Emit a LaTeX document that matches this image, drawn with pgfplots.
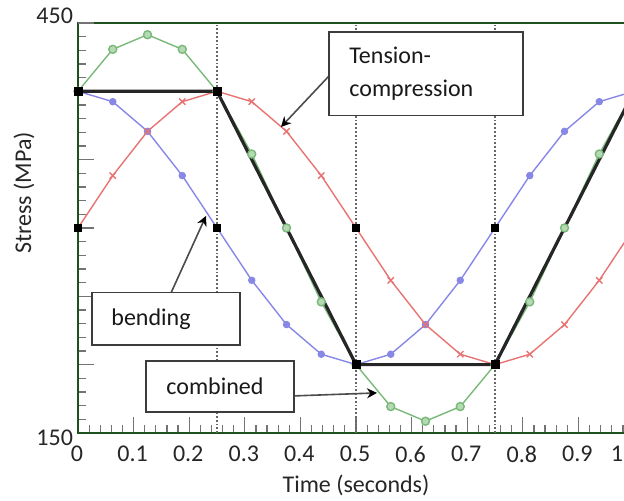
\documentclass[border=0pt]{standalone}
\usepackage{fontspec}
\setmainfont{Carlito}
\usepackage{pgfplots}
\pgfplotsset{compat=1.18}
\usetikzlibrary{arrows.meta}
\definecolor{spine}{RGB}{30,80,30}
\definecolor{bendblue}{RGB}{135,135,230}
\definecolor{tcred}{RGB}{232,115,115}
\definecolor{combgreen}{RGB}{120,185,120}
\definecolor{tickgray}{RGB}{115,115,115}
\definecolor{boxgray}{RGB}{60,60,60}

% stress histories, sampled every 1/16 s
\pgfplotstableread{
t       bend   tc     comb
0.0000  400.0  300.0  400.0
0.0625  392.4  338.3  430.7
0.1250  370.7  370.7  441.4
0.1875  338.3  392.4  430.7
0.2500  300.0  400.0  400.0
0.3125  261.7  392.4  354.1
0.3750  229.3  370.7  300.0
0.4375  207.6  338.3  245.9
0.5000  200.0  300.0  200.0
0.5625  207.6  261.7  169.3
0.6250  229.3  229.3  158.6
0.6875  261.7  207.6  169.3
0.7500  300.0  200.0  200.0
0.8125  338.3  207.6  245.9
0.8750  370.7  229.3  300.0
0.9375  392.4  261.7  354.1
1.0000  400.0  300.0  400.0
}\stresstable

\begin{document}
\begin{tikzpicture}[font=\fontsize{12}{14}\selectfont]
\begin{axis}[
  scale only axis,
  width=278pt, height=205pt,
  xmin=0, xmax=1, ymin=150, ymax=450,
  clip=false,
  axis line style={draw=spine, line width=1.2pt},
  xtick={0,0.1,0.2,0.3,0.4,0.5,0.6,0.7,0.8,0.9,1},
  xticklabels={0,0.1,0.2,0.3,0.4,0.5,0.6,0.7,0.8,0.9,},
  extra x ticks={1},
  extra x tick labels={1},
  extra x tick style={xticklabel style={xshift=-8pt}},
  ytick={150,200,250,300,350,400,450},
  yticklabels={150,,,,,,},
  extra y ticks={450},
  extra y tick labels={450},
  extra y tick style={yticklabel style={yshift=6pt}},
  minor x tick num=4, minor y tick num=4,
  xtick pos=bottom, ytick pos=left,
  tick align=inside,
  major tick length=8pt, minor tick length=4pt,
  tick style={draw=tickgray, line width=0.6pt},
  xticklabel style={text=black!85, yshift=-3pt, xshift=-0.5pt},
  yticklabel style={text=black!85, yshift=-2.5pt, xshift=1pt},
  xlabel={Time (seconds)},
  ylabel={Stress (MPa)},
  xlabel style={at={(axis description cs:0.5,-0.1267)}, anchor=center, text=black!85},
  ylabel style={at={(axis description cs:-0.0971,0.585)}, anchor=center, rotate=0, text=black!85},
]
% reference lines at the quarter periods
\addplot[densely dotted, line width=0.9pt, gray!80!black] coordinates {(0.25,150) (0.25,450)};
\addplot[densely dotted, line width=0.9pt, gray!80!black] coordinates {(0.5,150) (0.5,450)};
\addplot[densely dotted, line width=0.9pt, gray!80!black] coordinates {(0.75,150) (0.75,450)};

% bending
\addplot[bendblue, line width=0.7pt, mark=*, mark size=1.5pt, mark options={fill=bendblue}]
  table[x=t, y=bend] {\stresstable};
% tension-compression
\addplot[tcred, line width=0.7pt, mark=x, mark size=2.2pt]
  table[x=t, y=tc] {\stresstable};
% combined
\addplot[combgreen, line width=0.7pt, mark=*, mark size=2pt, mark options={fill=combgreen!55}]
  table[x=t, y=comb] {\stresstable};

% simplified combined loading path
\addplot[black!85, line width=1.6pt] coordinates {(0,400) (0.25,400) (0.5,200) (0.75,200) (1,400)};
\addplot[only marks, mark=square*, mark size=2pt, black] coordinates {
  (0,400) (0.25,400) (0.5,200) (0.75,200)};
\addplot[only marks, mark=square*, mark size=1.7pt, black] coordinates {
  (0,300) (0.25,300) (0.5,300) (0.75,300)};

% callouts
\draw[gray!60!black, line width=0.8pt, -{Stealth[black, length=5pt, width=5pt]}]
  (axis cs:0.4514,411.2) -- (axis cs:0.3651,373.9);
\draw[gray!60!black, line width=0.8pt, -{Stealth[black, length=5pt, width=5pt]}]
  (axis cs:0.1673,252.5) -- (axis cs:0.2302,308.8);
\draw[gray!60!black, line width=0.8pt, -{Stealth[black, length=5pt, width=5pt]}]
  (axis cs:0.3885,177.1) -- (axis cs:0.5378,179.3);

\draw[fill=white, draw=boxgray, line width=0.6pt] (axis cs:0.4514,443.4) rectangle (axis cs:0.8004,382.0);
\node[anchor=west, align=left, inner sep=0pt, text=black!90, font=\fontsize{12}{16.5}\selectfont]
  at (axis cs:0.4874,413.1) {Tension-\\compression};

\draw[fill=white, draw=boxgray, line width=0.6pt] (axis cs:0.0252,252.5) rectangle (axis cs:0.2914,214.4);
\node[anchor=west, inner sep=0pt, text=black!90] at (axis cs:0.0594,233.5) {bending};

\draw[fill=white, draw=boxgray, line width=0.6pt] (axis cs:0.1223,202.7) rectangle (axis cs:0.3885,165.4);
\node[anchor=west, inner sep=0pt, text=black!90] at (axis cs:0.1583,184.4) {combined};

\coordinate (bbsw) at (axis cs:-0.1403,100.3);
\coordinate (bbne) at (axis cs:0.982,466.8);
\end{axis}
\pgfresetboundingbox
\useasboundingbox (bbsw) rectangle (bbne);
\end{tikzpicture}
\end{document}
